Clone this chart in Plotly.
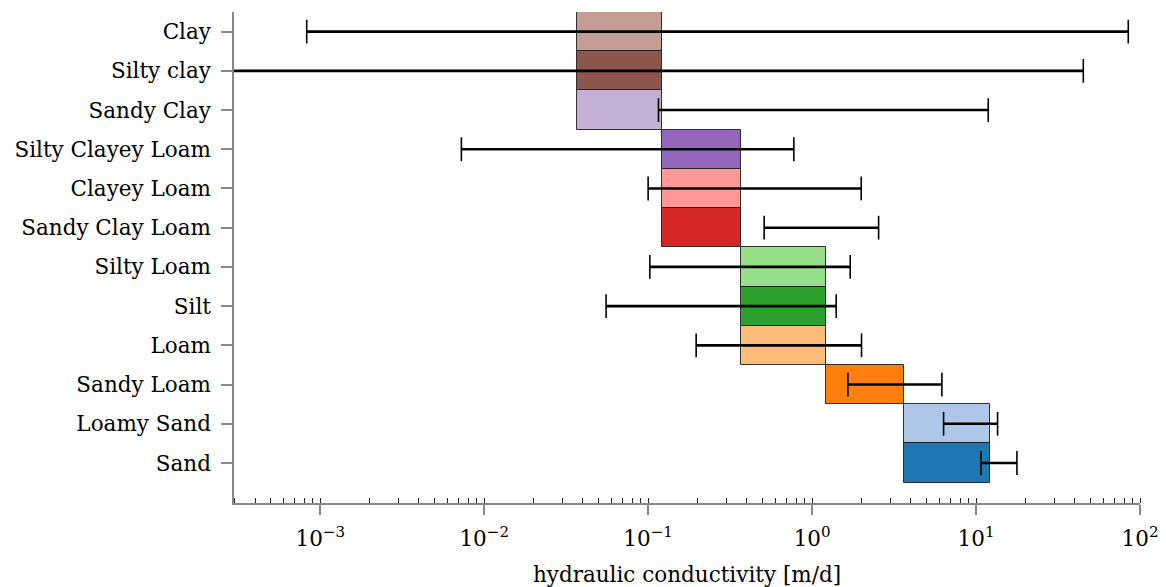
import plotly.graph_objects as go

# Soil classes (top to bottom)
soils = ["Clay", "Silty clay", "Sandy Clay", "Silty Clayey Loam", "Clayey Loam",
         "Sandy Clay Loam", "Silty Loam", "Silt", "Loam", "Sandy Loam",
         "Loamy Sand", "Sand"]

# Bar ranges [m/d]
bar_lo = [0.0366, 0.0366, 0.0366, 0.122, 0.122, 0.122, 0.366, 0.366, 0.366, 1.22, 3.66, 3.66]
bar_hi = [0.122, 0.122, 0.122, 0.366, 0.366, 0.366, 1.22, 1.22, 1.22, 3.66, 12.2, 12.2]

# Error bar ranges [m/d]
err_lo = [0.000827, 0.0001, 0.1156, 0.00726, 0.100, 0.510, 0.1024, 0.0554, 0.1963, 1.654, 6.34, 10.71]
err_hi = [84.8, 45.1, 11.87, 0.774, 1.993, 2.545, 1.708, 1.403, 2.002, 6.19, 13.53, 17.76]

colors = ["#c49c94", "#8c564b", "#c5b0d5", "#9467bd", "#ff9896", "#d62728",
          "#98df8a", "#2ca02c", "#ffbb78", "#ff7f0e", "#aec7e8", "#1f77b4"]

tick_vals = [1e-3, 1e-2, 1e-1, 1e0, 1e1, 1e2]
tick_text = ["10<sup>−3</sup>", "10<sup>−2</sup>", "10<sup>−1</sup>",
             "10<sup>0</sup>", "10<sup>1</sup>", "10<sup>2</sup>"]

FONT = "DejaVu Serif"
FS = 21.5

fig = go.Figure()

fig.add_trace(go.Bar(
    y=soils,
    x=[h - l for l, h in zip(bar_lo, bar_hi)],
    base=bar_lo,
    orientation="h",
    marker=dict(color=colors, line=dict(color="rgba(30,30,30,0.9)", width=1)),
    width=1.0,
    showlegend=False,
    hoverinfo="skip",
))

ex, ey = [], []
for s, lo, hi in zip(soils, err_lo, err_hi):
    ex += [lo, hi, None]
    ey += [s, s, None]

fig.add_trace(go.Scatter(
    x=ex, y=ey,
    mode="lines+markers",
    line=dict(color="black", width=2.6),
    marker=dict(symbol="line-ns", size=17, color="black",
                line=dict(color="black", width=1.6)),
    showlegend=False,
    hoverinfo="skip",
    connectgaps=False,
))

fig.update_layout(
    width=1166, height=587,
    margin=dict(l=234, r=26, t=12, b=84),
    plot_bgcolor="white", paper_bgcolor="white",
    bargap=0,
    font=dict(family=FONT, size=FS, color="black"),
)

fig.update_xaxes(
    type="log",
    range=[-3.526, 2.0],
    tickvals=tick_vals,
    ticktext=tick_text,
    ticks="outside", ticklen=10, tickwidth=1.5, tickcolor="#888888",
    showline=True, linecolor="#888888", linewidth=1.5,
    showgrid=False, zeroline=False,
    tickfont=dict(family=FONT, size=FS),
    ticklabelstandoff=5,
    automargin=False,
    minor=dict(ticks="inside", ticklen=5, tickwidth=1, tickcolor="#222222",
               dtick="D1", showgrid=False),
    title=dict(text="hydraulic conductivity [m/d]", font=dict(family=FONT, size=FS),
               standoff=18),
)

fig.update_yaxes(
    categoryorder="array", categoryarray=soils,
    range=[12.02, -0.5],
    ticks="outside", ticklen=11, tickwidth=1.5, tickcolor="#888888",
    showline=True, linecolor="#888888", linewidth=1.5,
    showgrid=False, zeroline=False,
    tickfont=dict(family=FONT, size=FS),
    ticklabelstandoff=6,
    automargin=False,
)

fig.write_html("out.html")
